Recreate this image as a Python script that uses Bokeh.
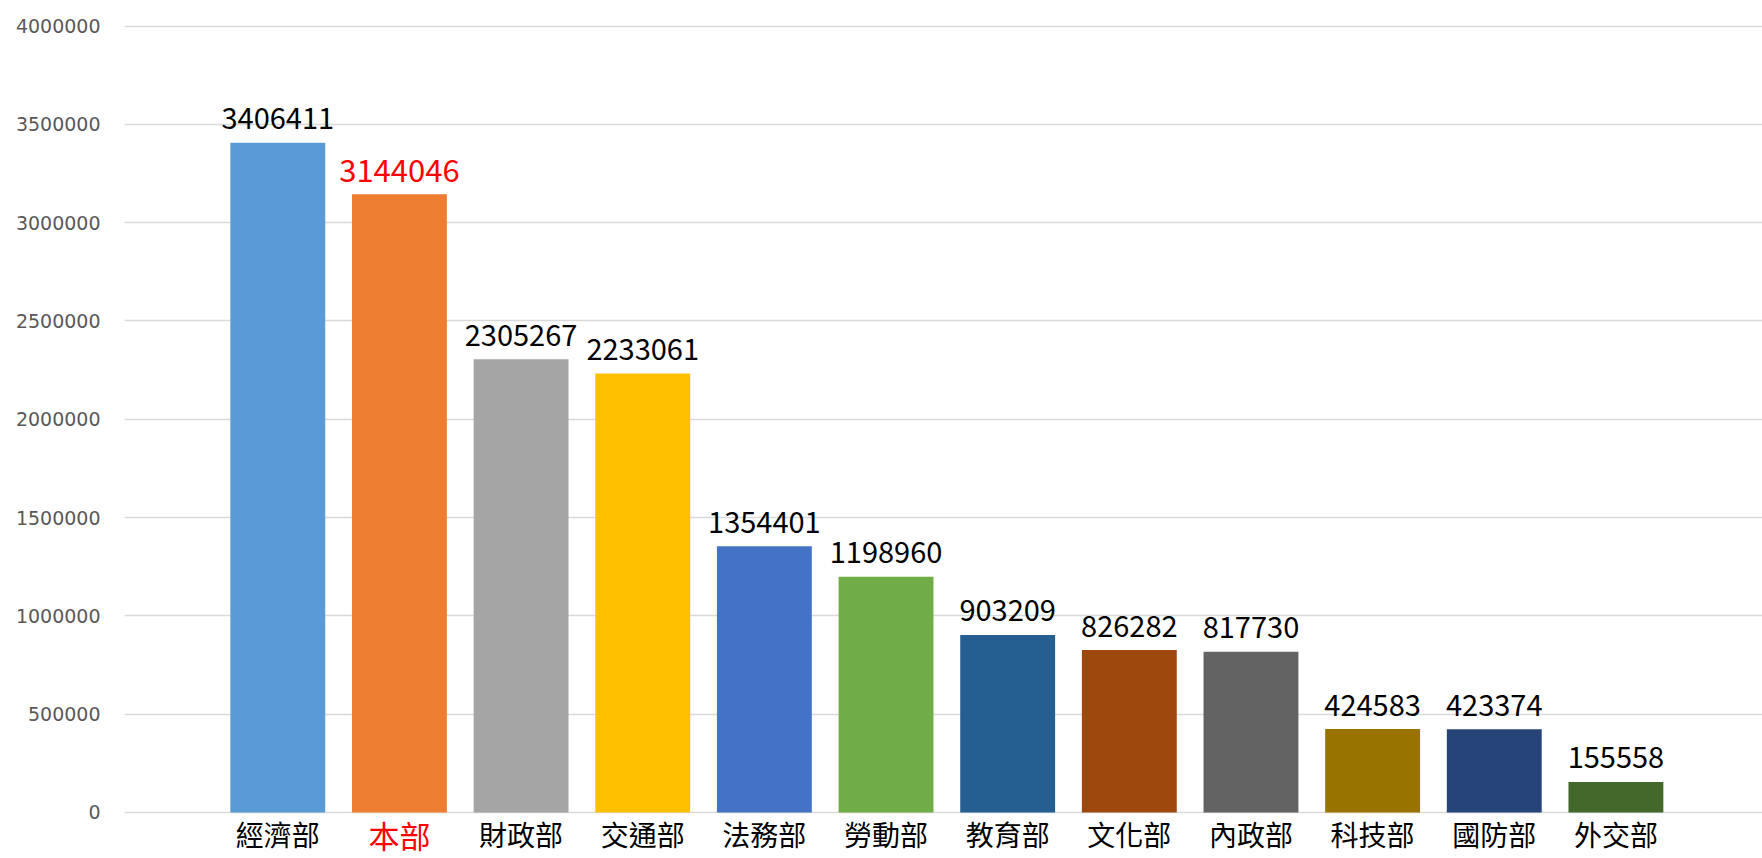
from bokeh.plotting import figure
from bokeh.models import Range1d, FixedTicker, ColumnDataSource
from bokeh.core.properties import value
from bokeh.embed import file_html
from bokeh.resources import INLINE

categories = ["經濟部", "本部", "財政部", "交通部", "法務部", "勞動部",
              "教育部", "文化部", "內政部", "科技部", "國防部", "外交部"]
amounts = [3406411, 3144046, 2305267, 2233061, 1354401, 1198960,
           903209, 826282, 817730, 424583, 423374, 155558]
bar_colors = ["#5B9BD5", "#ED7D31", "#A5A5A5", "#FFC000", "#4472C4", "#70AD47",
              "#255E91", "#9E480E", "#636363", "#997300", "#264478", "#43682B"]
label_colors = ["#000000", "#FF0000"] + ["#000000"] * 10
value_sizes = ["29px", "31px"] + ["29px"] * 10
cat_sizes = ["28px", "31px"] + ["28px"] * 10
y_ticks = [0, 500000, 1000000, 1500000, 2000000, 2500000, 3000000, 3500000, 4000000]

xs = list(range(len(categories)))
src = ColumnDataSource(dict(
    x=xs, top=amounts, color=bar_colors, lcolor=label_colors,
    vtext=[str(a) for a in amounts], cat=categories,
    vsize=value_sizes, csize=cat_sizes,
    zero=[0] * len(xs),
))

p = figure(width=1762, height=858, output_backend="svg", toolbar_location=None,
           x_range=Range1d(-1.26, 12.205), y_range=Range1d(-234000, 4130000),
           min_border_left=124, min_border_right=0, min_border_top=0, min_border_bottom=0)
p.outline_line_color = None
p.background_fill_color = "white"
p.border_fill_color = "white"
p.xaxis.visible = False
p.xgrid.visible = False

p.yaxis.ticker = FixedTicker(ticks=y_ticks)
p.yaxis.axis_line_color = None
p.yaxis.major_tick_line_color = None
p.yaxis.minor_tick_line_color = None
p.yaxis.major_tick_in = 0
p.yaxis.major_tick_out = 0
p.yaxis.major_label_standoff = 24
p.yaxis.major_label_text_font = "DejaVu Sans"
p.yaxis.major_label_text_font_size = "19px"
p.yaxis.major_label_text_color = "#595959"
p.yaxis.formatter.use_scientific = False
p.ygrid.ticker = FixedTicker(ticks=y_ticks)
p.ygrid.grid_line_color = "#D9D9D9"
p.ygrid.grid_line_width = 1.5

p.vbar(x="x", top="top", bottom=0, width=0.78, fill_color="color",
       line_color=None, source=src)

p.text(x="x", y="top", text="vtext", text_color="lcolor", source=src,
       text_align="center", text_baseline="alphabetic", y_offset=-24,
       text_font=value("Noto Sans CJK TC"), text_font_size="vsize")

p.text(x="x", y="zero", text="cat", text_color="lcolor", source=src,
       text_align="center", text_baseline="middle", y_offset=22,
       text_font=value("Noto Sans CJK TC"), text_font_size="csize")

open("out.html", "w").write(file_html(p, INLINE))
